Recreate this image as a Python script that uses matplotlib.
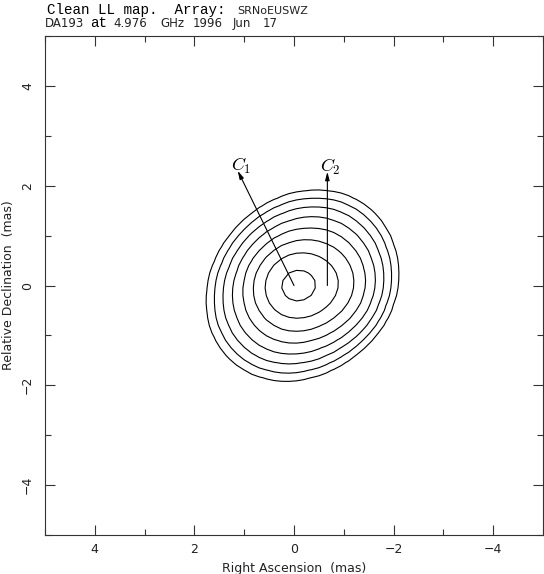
import numpy as np
import matplotlib.pyplot as plt

plt.rcParams['mathtext.fontset'] = 'cm'

# model components (Gaussian, restored), offsets in mas
comp_names = ['$C_1$', '$C_2$', '']
comp_flux = [0.50, 0.15, 0.40]
comp_ra = [0.0, -0.67, -0.15]
comp_dec = [0.0, 0.0, 0.0]
comp_fwhm_maj = [0.90, 1.06, 1.67]
comp_fwhm_min = [0.90, 1.06, 1.42]
comp_pa = [0.0, 0.0, -45.0]

# where the component arrows point to
label_ra = [1.13, -0.67]
label_dec = [2.30, 2.28]

# contour levels, percent of peak
levels_pct = [0.625, 1.25, 2.5, 5, 10, 20, 40, 80]

ticks = [4, 2, 0, -2, -4]
minor_ticks = [5, 3, 1, -1, -3, -5]

# header words: (text, x pixel, serif?)
line1 = [('Clean LL map.  Array:', 47, True), ('SRNoEUSWZ', 237, False)]
line2 = [('DA193', 45, False), ('at', 90, True), ('4.976', 113, False),
         ('GHz', 160, False), ('1996', 193, False), ('Jun', 233, False),
         ('17', 263, False)]

# map grid (coarse pixels like the clean map)
cell = 0.15
ra = np.arange(-5.0, 5.0 + cell, cell)
dec = np.arange(-5.0, 5.0 + cell, cell)
RA, DEC = np.meshgrid(ra, dec)
img = np.zeros_like(RA)
for f, x0, y0, fmaj, fmin, pa in zip(comp_flux, comp_ra, comp_dec,
                                     comp_fwhm_maj, comp_fwhm_min, comp_pa):
    th = np.radians(pa)
    dx = RA - x0
    dy = DEC - y0
    u = dx * np.sin(th) + dy * np.cos(th)
    v = dx * np.cos(th) - dy * np.sin(th)
    smaj = fmaj / 2.3548
    smin = fmin / 2.3548
    img += f * np.exp(-0.5 * (u**2 / smaj**2 + v**2 / smin**2))
peak = img.max()
levels = [peak * p / 100.0 for p in levels_pct]

fig = plt.figure(figsize=(5.44, 5.74), dpi=100)
ax = fig.add_axes([45/544, 1 - 535/574, 498/544, 499/574])

ax.contour(RA, DEC, img, levels=levels, colors='black', linewidths=0.8)

for name, x0, y0, lx, ly in zip(comp_names, comp_ra, comp_dec, label_ra, label_dec):
    ax.annotate('', xy=(lx, ly), xytext=(x0, y0),
                arrowprops=dict(arrowstyle='-|>,head_length=0.7,head_width=0.18',
                                lw=0.8, color='black', mutation_scale=7,
                                shrinkA=0, shrinkB=0))
    ax.text(lx - 0.06, ly, name, ha='center', va='baseline', fontsize=13)

ax.set_xlim(5, -5)
ax.set_ylim(-5, 5)
ax.set_xticks(ticks)
ax.set_yticks(ticks)
ax.set_xticks(minor_ticks, minor=True)
ax.set_yticks(minor_ticks, minor=True)
ax.tick_params(which='both', direction='in', top=True, right=True,
               color='#333333', width=0.8)
ax.tick_params(which='major', length=7, labelsize=9, labelcolor='#222222')
ax.tick_params(which='minor', length=4)
ax.tick_params(axis='x', pad=6)
ax.tick_params(axis='y', pad=8, labelrotation=90)
for lab in ax.get_yticklabels():
    lab.set_va('center')
for sp in ax.spines.values():
    sp.set_linewidth(0.8)
    sp.set_color('#333333')

ax.set_xlabel('Right Ascension  (mas)', fontsize=9, color='#222222')
ax.set_ylabel('Relative Declination  (mas)', fontsize=9, color='#222222')
ax.xaxis.set_label_coords(0.5, -0.054)
ax.yaxis.set_label_coords(-0.06, 0.5)

for words, base in ((line1, 14), (line2, 27)):
    for w, xp, serif in words:
        if serif:
            fig.text(xp/544, 1 - base/574, w, family='Liberation Mono',
                     fontsize=10.3, va='baseline', ha='left')
        else:
            size = 8 if w == 'SRNoEUSWZ' else 8.5
            fig.text(xp/544, 1 - base/574, w, family='DejaVu Sans',
                     fontsize=size, va='baseline', ha='left', color='#222222')

fig.savefig('out.png', dpi=100)
